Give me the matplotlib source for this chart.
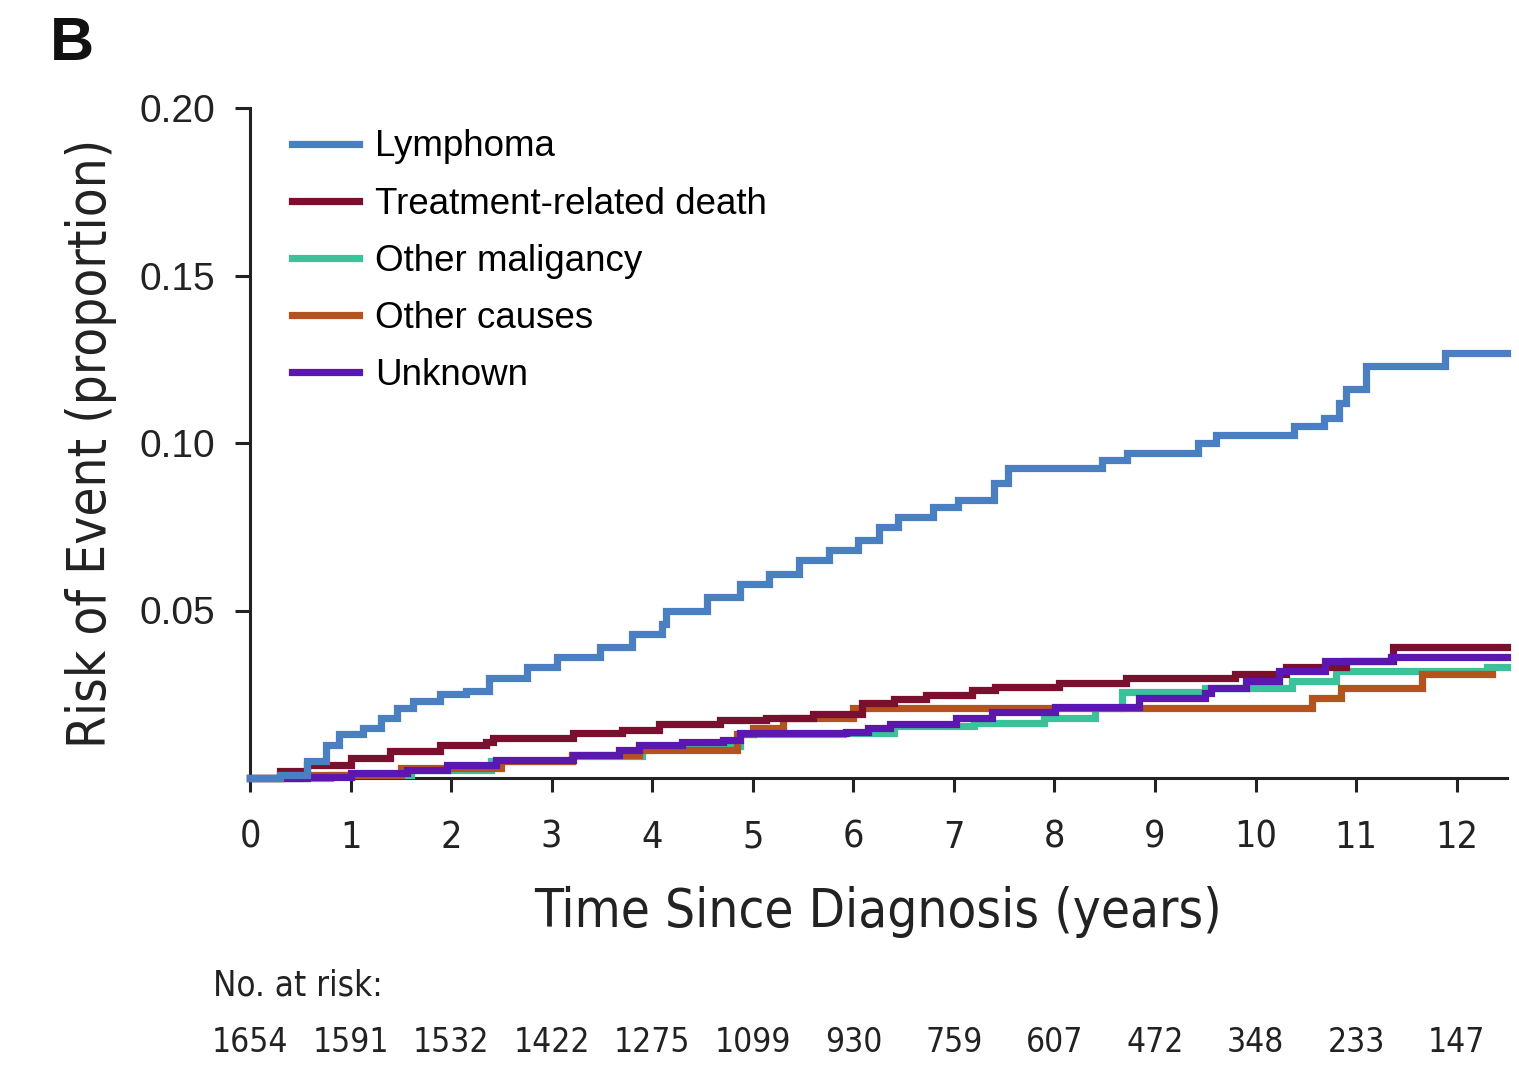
import matplotlib
matplotlib.use('Agg')
import matplotlib.pyplot as plt
from matplotlib.lines import Line2D

# cumulative incidence curves (step, value after each time)
lymphoma_t = [0, 0.30, 0.57, 0.76, 0.89, 1.12, 1.30, 1.46, 1.62, 1.89, 2.15, 2.38, 2.75, 3.05, 3.48,
              3.80, 4.10, 4.14, 4.54, 4.87, 5.16, 5.46, 5.76, 6.05, 6.25, 6.44, 6.79, 7.04, 7.40,
              7.54, 8.47, 8.72, 9.43, 9.61, 10.38, 10.68, 10.83, 10.90, 11.10, 11.88, 12.5]
lymphoma_v = [0, 0.001, 0.005, 0.010, 0.013, 0.015, 0.018, 0.021, 0.023, 0.025, 0.026, 0.030, 0.033,
              0.036, 0.039, 0.043, 0.046, 0.050, 0.054, 0.058, 0.061, 0.065, 0.068, 0.071, 0.075,
              0.078, 0.081, 0.083, 0.088, 0.0925, 0.095, 0.097, 0.100, 0.1025, 0.105, 0.1075,
              0.112, 0.116, 0.123, 0.127, 0.127]

treat_t = [0, 0.30, 0.57, 1.00, 1.39, 1.89, 2.35, 2.42, 3.21, 3.70, 4.07, 4.67, 5.13, 5.60, 6.09,
           6.40, 6.72, 7.18, 7.41, 8.04, 8.71, 9.80, 10.30, 10.90, 11.37, 12.5]
treat_v = [0, 0.002, 0.004, 0.006, 0.008, 0.0098, 0.0107, 0.012, 0.0134, 0.0143, 0.016, 0.0173,
           0.018, 0.019, 0.0224, 0.0235, 0.0248, 0.0263, 0.0272, 0.0284, 0.0298, 0.031, 0.033,
           0.035, 0.039, 0.039]

malig_t = [0, 0.80, 1.60, 2.40, 3.20, 3.90, 4.87, 5.90, 6.40, 7.20, 7.90, 8.40, 8.67, 9.50,
           10.36, 10.80, 12.30, 12.5]
malig_v = [0, 0.001, 0.0025, 0.005, 0.0065, 0.0095, 0.013, 0.0135, 0.0155, 0.0164, 0.018, 0.021,
           0.0257, 0.027, 0.029, 0.032, 0.033, 0.033]

other_t = [0, 0.50, 1.50, 2.50, 3.20, 3.87, 4.84, 5.00, 5.30, 6.00, 10.56, 10.85, 11.65, 12.35]
other_v = [0, 0.001, 0.003, 0.005, 0.007, 0.0084, 0.013, 0.015, 0.018, 0.021, 0.024, 0.027,
           0.031, 0.031]

unknown_t = [0, 0.57, 1.00, 1.56, 1.96, 2.45, 3.21, 3.67, 3.87, 4.30, 4.70, 4.87, 5.93, 6.15, 6.36,
             7.02, 7.38, 8.01, 8.84, 9.50, 9.56, 9.90, 10.23, 10.69, 11.35, 12.5]
unknown_v = [0, 0.0003, 0.0015, 0.0024, 0.004, 0.0054, 0.0069, 0.0084, 0.010, 0.0108, 0.0113,
             0.0134, 0.0137, 0.015, 0.016, 0.018, 0.0197, 0.0212, 0.024, 0.0254, 0.027, 0.029,
             0.032, 0.035, 0.036, 0.036]

labels = ['Lymphoma', 'Treatment-related death', 'Other maligancy', 'Other causes', 'Unknown']
colors = ['#4a7fc1', '#7b0f2e', '#3cc29a', '#b4531f', '#5b17b0']

risk_years = list(range(13))
at_risk = [1654, 1591, 1532, 1422, 1275, 1099, 930, 759, 607, 472, 348, 233, 147]

REG = ['Liberation Sans', 'DejaVu Sans']
COND = dict(family='DejaVu Sans', stretch='condensed')
INK = '#222222'
plt.rcParams['font.family'] = REG

fig = plt.figure(figsize=(15.19, 10.65), dpi=100)
ax = fig.add_axes([250 / 1519, 1 - 778 / 1065, 1257 / 1519, 670 / 1065])

series = [(lymphoma_t, lymphoma_v), (treat_t, treat_v), (malig_t, malig_v),
          (other_t, other_v), (unknown_t, unknown_v)]
draw_order = [2, 3, 1, 4, 0]
for i in draw_order:
    t, v = series[i]
    ax.step(t, v, where='post', color=colors[i], lw=5.2, solid_joinstyle='miter',
            clip_on=False, zorder=3)

ax.set_xlim(0, 12.5)
ax.set_ylim(0, 0.20)
ax.set_xticks(risk_years)
ax.set_yticks([0.05, 0.10, 0.15, 0.20])
ax.set_yticklabels(['0.05', '0.10', '0.15', '0.20'])
for s in ['top', 'right']:
    ax.spines[s].set_visible(False)
for s in ['left', 'bottom']:
    ax.spines[s].set_linewidth(2.2)
    ax.spines[s].set_color(INK)
ax.tick_params(axis='x', direction='out', length=10, width=2.2, pad=20, color=INK,
               labelsize=27, labelcolor=INK)
ax.tick_params(axis='y', direction='out', length=11, width=2.2, pad=14, color=INK,
               labelsize=28, labelcolor=INK)
for lab in ax.get_xticklabels():
    lab.set_family('DejaVu Sans')
    lab.set_stretch('condensed')

ax.set_xlabel('Time Since Diagnosis (years)', fontsize=38, color=INK, labelpad=22, **COND)
ax.set_ylabel('Risk of Event (proportion)', fontsize=38, color=INK, labelpad=16, **COND)

handles = [Line2D([0], [0], color=c, lw=5.2) for c in colors]
ax.legend(handles, labels, loc='upper left', bbox_to_anchor=(0.022, 0.99), frameon=False,
          prop={'family': REG, 'size': 26.5}, handlelength=1.8, handletextpad=0.45,
          labelspacing=0.6, borderaxespad=0)

fig.text(50 / 1519, 1 - 45 / 1065, 'B', fontsize=44, fontweight='bold', va='center',
         ha='left', family=REG, color='#111111')
fig.text(213 / 1519, 1 - 985 / 1065, 'No. at risk:', fontsize=25, va='center', ha='left',
         color=INK, **COND)
for yr, n in zip(risk_years, at_risk):
    ax.annotate(str(n), xy=(yr, 0), xycoords=('data', 'axes fraction'),
                xytext=(0, -(1042 - 778) * 0.72), textcoords='offset points',
                ha='center', va='center', fontsize=24, color=INK, annotation_clip=False, **COND)

fig.savefig('out.png', dpi=100)
